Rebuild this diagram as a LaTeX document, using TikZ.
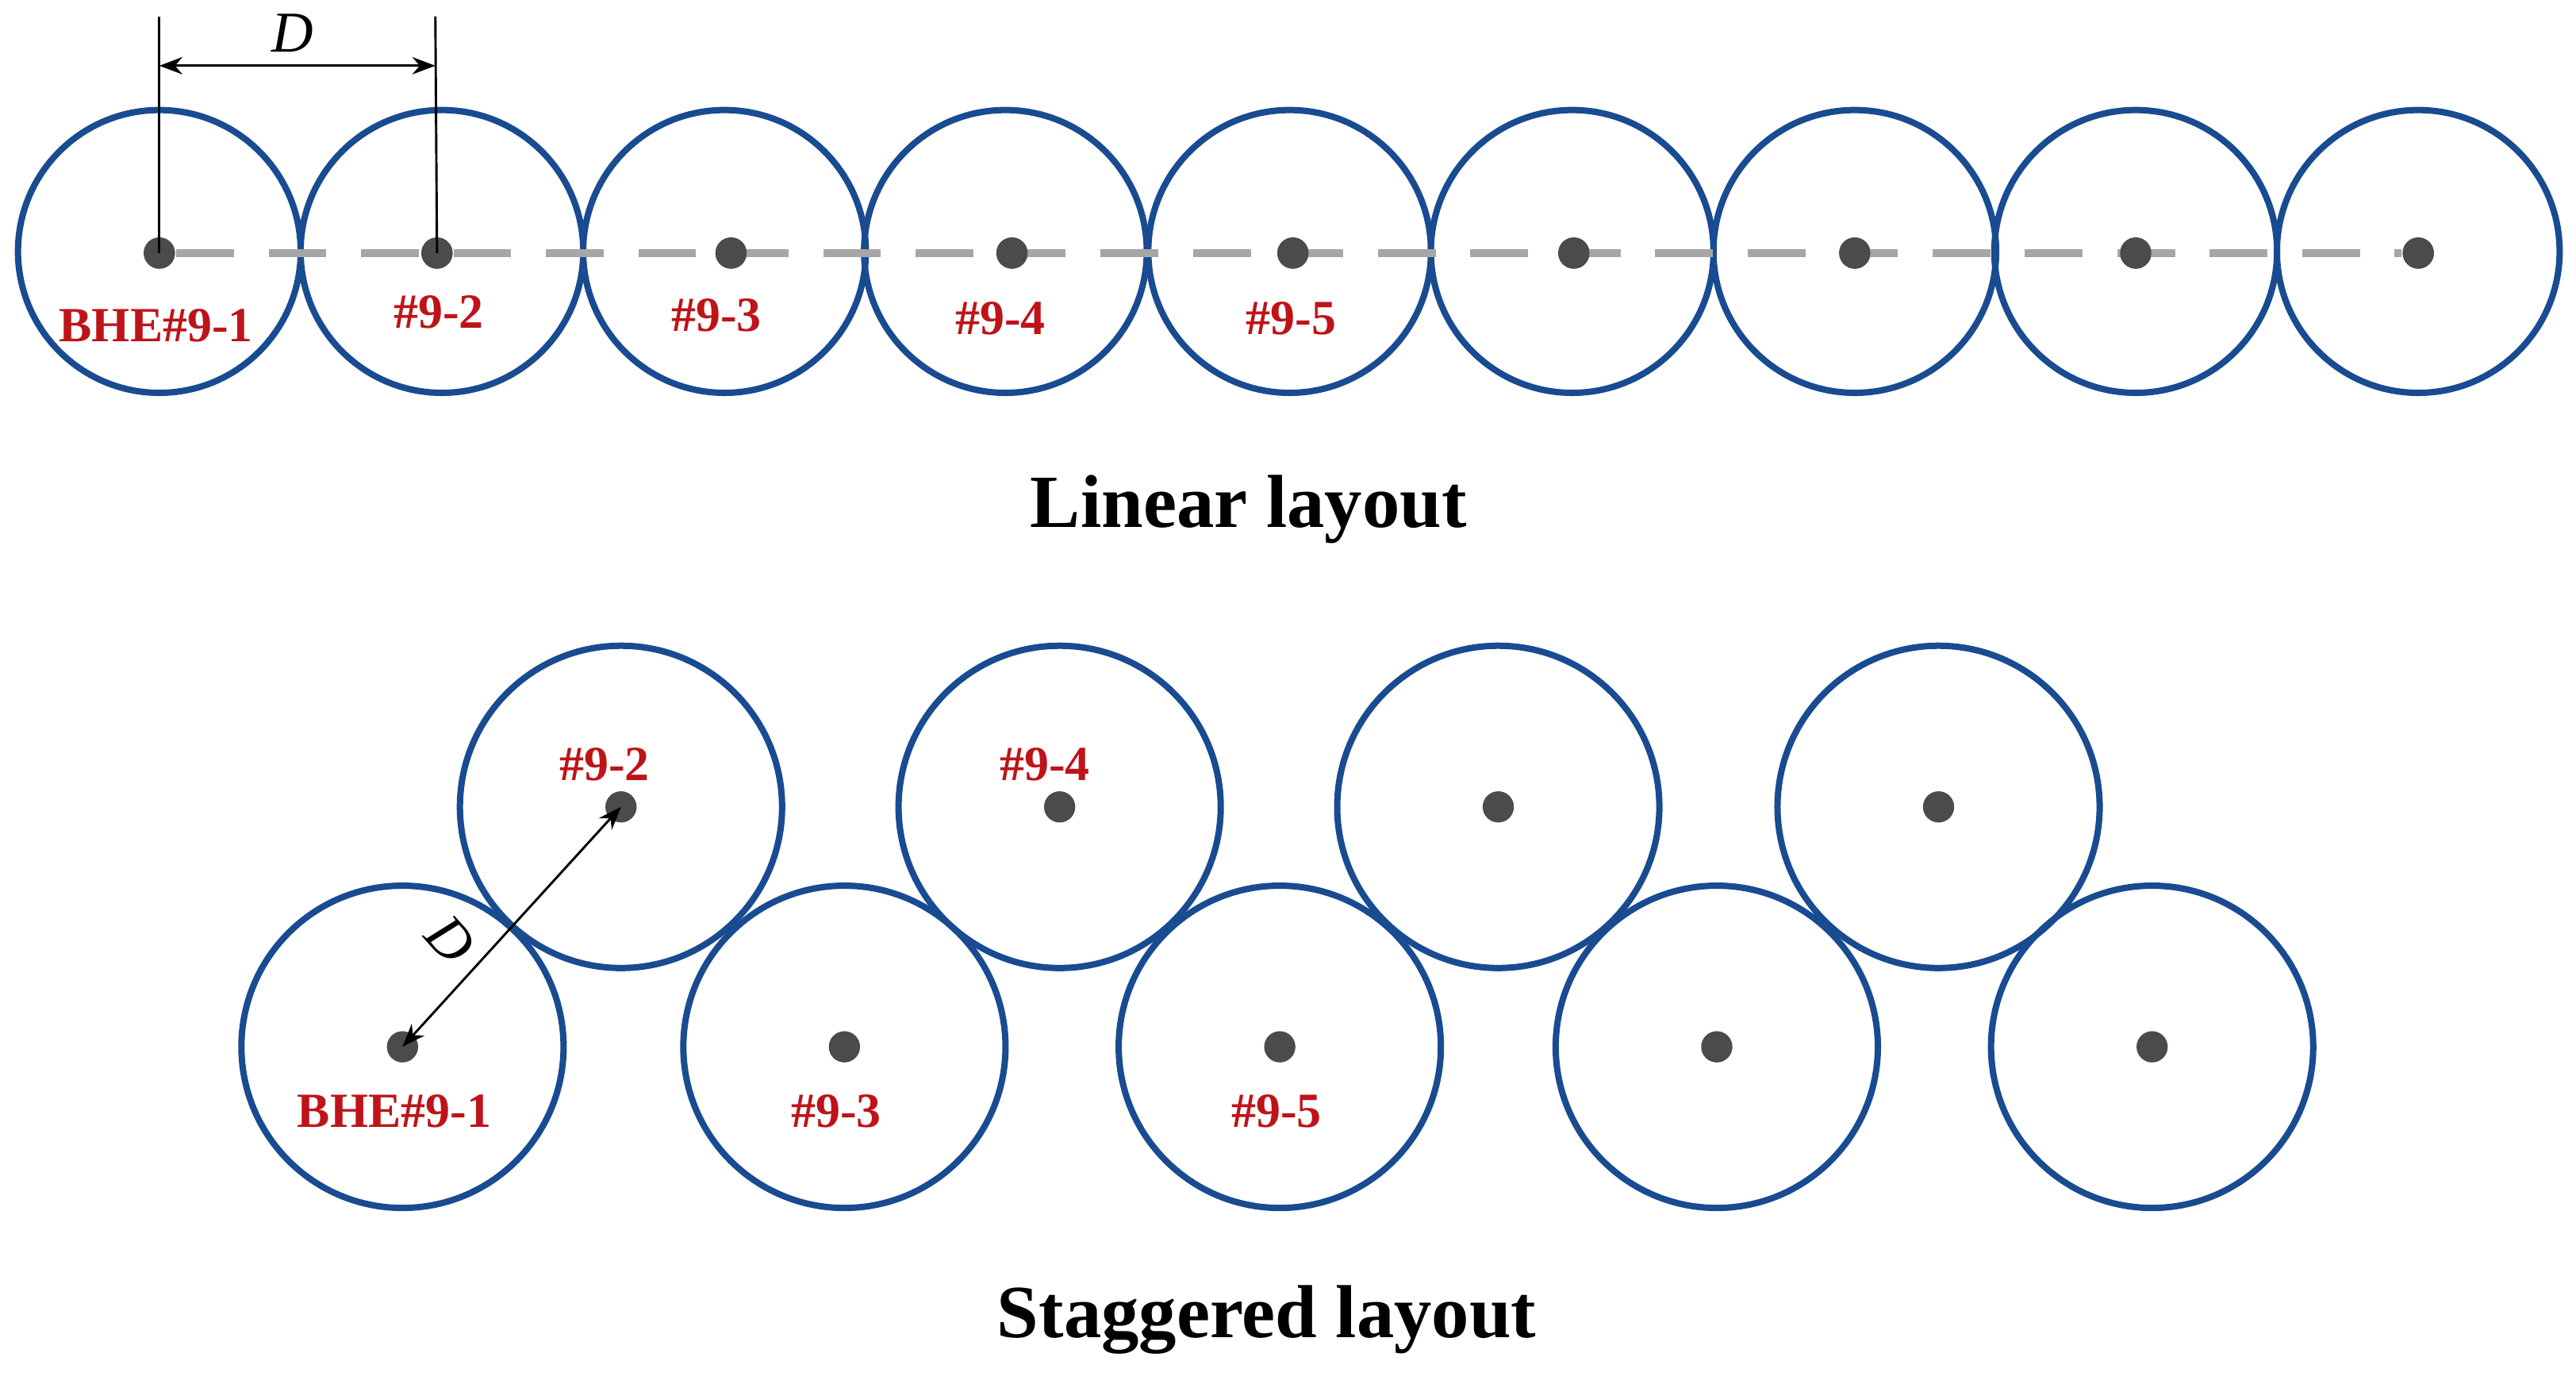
\documentclass[tikz,border=0pt]{standalone}
\usepackage{fontspec}
\setmainfont{Liberation Serif}
\usetikzlibrary{arrows.meta,positioning}
\definecolor{bheblue}{RGB}{25,75,145}
\definecolor{bhered}{RGB}{190,20,25}
\definecolor{bhedot}{RGB}{75,75,75}
\tikzset{
  zone/.style={circle,draw=bheblue,line width=1.1pt,inner sep=0pt},
  bore/.style={circle,fill=bhedot,inner sep=0pt,minimum size=0.19cm},
  tag/.style={text=bhered,font=\bfseries\fontsize{8.5}{10}\selectfont},
  title/.style={font=\bfseries\fontsize{13}{15}\selectfont},
  dim/.style={thin,{Stealth[length=4pt]}-{Stealth[length=4pt]}}
}
\begin{document}
\begin{tikzpicture}[x=0.01cm,y=-0.01cm]
  \useasboundingbox (0,0) rectangle (1568,842);
  % linear layout
  \foreach \x [count=\i] in {97,269,441,612,785,957,1129,1300,1472}
    \node[zone,minimum size=1.72cm] (lz\i) at (\x,153) {};
  \foreach \x [count=\i] in {97,266,445,616,787,958,1129,1300,1472}
    \node[bore] (lb\i) at (\x,154) {};
  \draw[gray!70,dashed,dash pattern=on 10pt off 6pt,line width=1.3pt] (lb1) -- (lb9);
  \foreach \i in {1,...,9} \node[bore] at (lb\i) {};
  \node[tag] (lt1) at (95,198) {BHE\#9-1};
  \node[tag] (lt2) at (267,190) {\#9-2};
  \node[tag] (lt3) at (436,192) {\#9-3};
  \node[tag] (lt4) at (609,194) {\#9-4};
  \node[tag] (lt5) at (786,194) {\#9-5};
  \coordinate (da) at (97,10);
  \coordinate (db) at (265,10);
  \draw[thin] (lb1.center) -- (da);
  \draw[thin] (lb2.center) -- (db);
  \coordinate (ea) at (97,40);
  \coordinate (eb) at (265,40);
  \draw[dim] (ea) -- (eb);
  \node[font=\itshape\fontsize{10}{12}\selectfont] (dl) at (178,20) {D};
  \node[title] (lin) at (760,310) {Linear layout};
  % staggered layout
  \foreach \x [count=\i] in {245,514,779,1045,1310} {
    \node[zone,minimum size=1.96cm] (sz\i) at (\x,637) {};
    \node[bore] (sb\i) at (\x,637) {};
  }
  \foreach \x [count=\i] in {378,645,912,1180} {
    \node[zone,minimum size=1.96cm] (tz\i) at (\x,491) {};
    \node[bore] (tb\i) at (\x,491) {};
  }
  \node[tag] (st1) at (240,676) {BHE\#9-1};
  \node[tag] (st3) at (509,676) {\#9-3};
  \node[tag] (st5) at (777,676) {\#9-5};
  \node[tag] (st2) at (368,465) {\#9-2};
  \node[tag] (st4) at (636,465) {\#9-4};
  \draw[dim] (sb1.center) -- (tb1.center);
  \node[font=\itshape\fontsize{10}{12}\selectfont,rotate=-48] (sd) at (274,572) {D};
  \node[title] (stag) at (771,803) {Staggered layout};
\end{tikzpicture}
\end{document}
